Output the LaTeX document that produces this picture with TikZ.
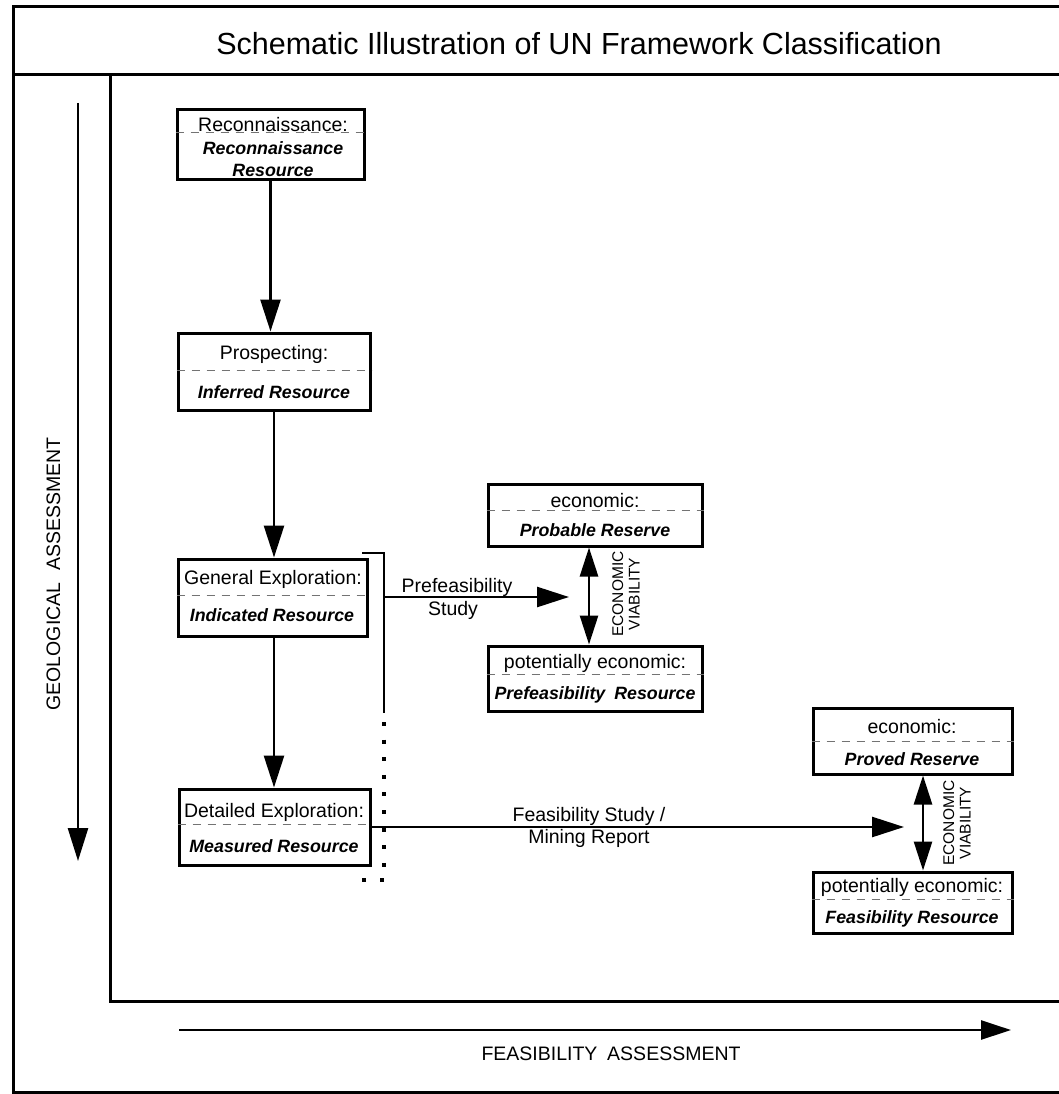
\documentclass[tikz,border=0pt]{standalone}
\usepackage{fontspec}
\setmainfont{Liberation Sans}
\usetikzlibrary{arrows.meta}
\begin{document}
\begin{tikzpicture}[x=1pt,y=-1pt,
  frameline/.style={line width=3pt},
  box/.style={draw, line width=3pt, rectangle, inner sep=0pt},
  divider/.style={draw=black!55, line width=1.2pt, dash pattern=on 8pt off 7pt},
  lbl/.style={font=\fontsize{19.5}{22}\selectfont, inner sep=0pt},
  bi/.style={font=\fontsize{17.8}{22}\selectfont\bfseries\itshape, inner sep=0pt, align=center},
  flow/.style={line width=2.6pt, -{Triangle[length=32pt,width=20pt]}},
  dbl/.style={line width=2.6pt, {Triangle[length=29pt,width=18pt]}-{Triangle[length=29pt,width=18pt]}},
  vlbl/.style={font=\fontsize{15.5}{16.5}\selectfont, rotate=90, align=center, inner sep=0pt},
  dots/.style={line width=4pt, dash pattern=on 4pt off 13.6pt}
]
\useasboundingbox (0,0) rectangle (1059,1094);
\fill[white] (0,0) rectangle (1059,1094);

% outer frame
\draw[frameline] (1062,7) -- (13,7) -- (13,1092) -- (1062,1092);
\draw[frameline] (13,75) -- (1062,75);
% inner frame
\draw[frameline] (110,75) -- (110,1001) -- (1062,1001);

% title
\node[font=\fontsize{30.5}{34}\selectfont, inner sep=0pt, anchor=base] (title) at (579,55) {Schematic Illustration of UN Framework Classification};

% axes
\coordinate (gs) at (78,103);
\coordinate (ge) at (78,861);
\draw[line width=2.6pt, -{Triangle[length=33pt,width=20pt]}] (gs) -- (ge);
\node[lbl, rotate=90, anchor=base] (geo) at (60,574) {GEOLOGICAL\hspace{0.6em}ASSESSMENT};

\coordinate (fs) at (179,1030);
\coordinate (fe) at (1011,1030);
\draw[line width=2.6pt, -{Triangle[length=30pt,width=19pt]}] (fs) -- (fe);
\node[lbl, anchor=base] (feasax) at (611,1060) {FEASIBILITY\hspace{0.5em}ASSESSMENT};

% boxes
\node[box, minimum width=187pt, minimum height=70pt] (recon) at (270.5,145) {};
\node[box, minimum width=192pt, minimum height=77pt] (prosp) at (274,371.5) {};
\node[box, minimum width=189pt, minimum height=77pt] (genex) at (272.5,597.5) {};
\node[box, minimum width=191pt, minimum height=76pt] (detex) at (274.5,827) {};
\node[box, minimum width=214pt, minimum height=62pt] (probable) at (595,515) {};
\node[box, minimum width=214pt, minimum height=65pt] (prefeas) at (595,678.5) {};
\node[box, minimum width=199pt, minimum height=66pt] (proved) at (912.5,741) {};
\node[box, minimum width=199pt, minimum height=61pt] (feasres) at (912.5,902.5) {};

% dividers
\draw[divider] ([yshift=-24pt]recon.north west) -- ([yshift=-24pt]recon.north east);
\draw[divider] ([yshift=-39pt]prosp.north west) -- ([yshift=-39pt]prosp.north east);
\draw[divider] ([yshift=-38pt]genex.north west) -- ([yshift=-38pt]genex.north east);
\draw[divider] ([yshift=-37pt]detex.north west) -- ([yshift=-37pt]detex.north east);
\draw[divider] ([yshift=-28pt]probable.north west) -- ([yshift=-28pt]probable.north east);
\draw[divider] ([yshift=-30pt]prefeas.north west) -- ([yshift=-30pt]prefeas.north east);
\draw[divider] ([yshift=-35pt]proved.north west) -- ([yshift=-35pt]proved.north east);
\draw[divider] ([yshift=-29pt]feasres.north west) -- ([yshift=-29pt]feasres.north east);

% box texts
\node[lbl, anchor=base] (recon-a) at (273,132) {Reconnaissance:};
\node[bi, anchor=base] (recon-b) at (273,155) {Reconnaissance};
\node[bi, anchor=base] (recon-c) at (273,177) {Resource};

\node[lbl, anchor=base] (prosp-a) at (274,359) {Prospecting:};
\node[bi, anchor=base] (prosp-b) at (274,398) {Inferred Resource};

\node[lbl, anchor=base] (genex-a) at (273,584) {General Exploration:};
\node[bi, anchor=base] (genex-b) at (272,621) {Indicated Resource};

\node[lbl, anchor=base] (detex-a) at (274,817) {Detailed Exploration:};
\node[bi, anchor=base] (detex-b) at (274,852) {Measured Resource};

\node[lbl, anchor=base] (probable-a) at (595,507) {economic:};
\node[bi, anchor=base] (probable-b) at (595,536) {Probable Reserve};

\node[lbl, anchor=base] (prefeas-a) at (595,668) {potentially economic:};
\node[bi, anchor=base] (prefeas-b) at (595,699) {Prefeasibility\hspace{0.5em}Resource};

\node[lbl, anchor=base] (proved-a) at (912,733) {economic:};
\node[bi, anchor=base] (proved-b) at (912,765) {Proved Reserve};

\node[lbl, anchor=base] (feasres-a) at (912,892) {potentially economic:};
\node[bi, anchor=base] (feasres-b) at (912,923) {Feasibility Resource};

% vertical flow
\draw[flow] (recon.south) -- (recon.south |- prosp.north);
\draw[flow] (prosp.south) -- (prosp.south |- genex.north);
\draw[flow] ([xshift=1.5pt]genex.south) -- ([xshift=1.5pt]genex.south |- detex.north);

% bracket
\coordinate (b1) at (362,553);
\coordinate (b2) at (384,553);
\coordinate (b3) at (384,713);
\coordinate (brk) at (384,597);
\draw[line width=2.6pt] (b1) -- (b2) -- (b3);
\coordinate (d1) at (384,722);
\coordinate (d2) at (384,880);
\coordinate (d3) at (350,880);
\draw[dots] (d1) -- (d2) -- (d3);

% prefeasibility study
\coordinate (pfe) at (569,597);
\draw[flow] (brk) -- (pfe);
\node[lbl, anchor=base] (pf1) at (457,592) {Prefeasibility};
\node[lbl, anchor=base] (pf2) at (453,615) {Study};

% feasibility study
\coordinate (fse) at (904,827);
\draw[flow] (detex.east) -- (fse);
\node[lbl, anchor=base] (fs1) at (589,821) {Feasibility Study /};
\node[lbl, anchor=base] (fs2) at (589,843) {Mining Report};

% economic viability
\draw[dbl] ([xshift=-6pt]probable.south) -- ([xshift=-6pt]prefeas.north);
\node[vlbl] (ev1) at (626,594) {ECONOMIC\\VIABILITY};
\draw[dbl] ([xshift=10.5pt]proved.south) -- ([xshift=10.5pt]feasres.north);
\node[vlbl] (ev2) at (957,823) {ECONOMIC\\VIABILITY};
\end{tikzpicture}
\end{document}
